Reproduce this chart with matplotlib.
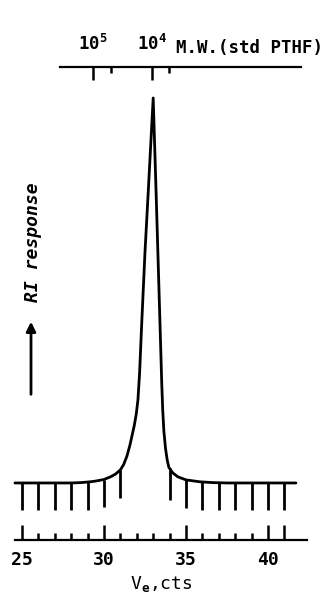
#!/usr/bin/env python3
import numpy as np
import matplotlib
matplotlib.use("Agg")
import matplotlib.pyplot as plt

# GPC trace (RI response vs elution volume)
ve = [24.57, 25, 26, 27, 28, 28.6, 29.15, 29.5, 30.0, 30.4, 30.7, 31.0, 31.2,
      31.4, 31.58, 31.72, 31.85, 31.97, 32.07, 32.17, 32.29, 32.5, 32.69, 33.0,
      33.18, 33.42, 33.52, 33.58, 33.65, 33.75, 33.86, 33.96, 34.2, 34.5, 35.0,
      35.85, 36.6, 37.5, 38.5, 39.5, 40.5, 41.7]
ri = [0, 0, 0, 0, 0, 0.1, 0.3, 0.5, 0.9, 1.6, 2.3, 3.4, 4.8,
      7.0, 9.8, 12.5, 15.0, 18.0, 21.6, 28.5, 40.5, 60.0, 75.0, 100.0,
      75.0, 40.5, 26.0, 19.0, 13.5, 9.0, 5.8, 4.0, 2.6, 1.6, 0.8,
      0.3, 0.1, 0, 0, 0, 0, 0]

# chart-recorder count marks hanging under the trace
mark_ve = [25, 26, 27, 28, 29, 30, 31, 34, 35, 36, 37, 38, 39, 40, 41]
mark_bottom = [-7, -7, -7, -7, -7, -6.3, -3.9, -4.4, -6.5, -7, -7, -7, -7, -7, -7]

# bottom axis (counts)
ve_major = [25, 30, 35, 40, 41]
ve_major_labels = ["25", "30", "35", "40", ""]
ve_minor = [26, 27, 28, 29, 31, 32, 33, 34, 36, 37, 38, 39]

# top axis (molecular weight, std PTHF)
mw_major = [29.33, 32.93]
mw_major_labels = ["$10^5$", "$10^4$"]
mw_minor = [30.43, 33.96]

plt.rcParams["font.family"] = ["DejaVu Sans Mono", "DejaVu Sans"]
plt.rcParams["font.weight"] = "bold"
plt.rcParams["mathtext.fontset"] = "custom"
plt.rcParams["mathtext.rm"] = "DejaVu Sans Mono:bold"
plt.rcParams["mathtext.it"] = "DejaVu Sans Mono:bold"
plt.rcParams["mathtext.default"] = "rm"

fig = plt.figure(figsize=(3.31, 5.97), dpi=100)
ax = fig.add_axes([0.0, 0.0955, 1.0, 0.7923])
ax.set_xlim(23.66, 43.84)
ax.set_ylim(-14.81, 108.05)

# trace
ax.plot(ve, ri, color="k", lw=2.0, solid_capstyle="round", solid_joinstyle="round")

# count marks
tops = np.interp(mark_ve, ve, ri)
ax.vlines(mark_ve, mark_bottom, tops, color="k", lw=2.0)

# bottom axis
for s in ["left", "right", "top"]:
    ax.spines[s].set_visible(False)
ax.spines["bottom"].set_bounds(24.57, 42.38)
ax.spines["bottom"].set_linewidth(1.6)
ax.set_yticks([])
ax.set_xticks(ve_major)
ax.set_xticklabels(ve_major_labels)
ax.set_xticks(ve_minor, minor=True)
ax.tick_params(axis="x", which="major", direction="in", length=11, width=1.8,
               labelsize=13, pad=8)
ax.tick_params(axis="x", which="minor", direction="in", length=5, width=1.8)
ax.set_xlabel("V$_e$,cts", fontsize=13)
ax.xaxis.set_label_coords(33.5, -26.3, transform=ax.transData)
ax.xaxis.label.set_va("center")

# top axis
top = ax.twiny()
top.set_xlim(ax.get_xlim())
for s in ["left", "right", "bottom"]:
    top.spines[s].set_visible(False)
top.spines["top"].set_bounds(27.32, 42.0)
top.spines["top"].set_linewidth(1.6)
top.set_xticks(mw_major)
top.set_xticklabels(mw_major_labels)
top.set_xticks(mw_minor, minor=True)
top.tick_params(axis="x", which="major", direction="in", length=9.5, width=1.8,
                labelsize=12.5, pad=9)
top.tick_params(axis="x", which="minor", direction="in", length=4, width=1.8)
ax.text(34.39, 111.7, "M.W.(std PTHF)", fontsize=12.5, ha="left", va="baseline")

# y label and arrow
ax.text(25.67, 62.6, "RI response", rotation=90, fontsize=13, style="oblique",
        ha="center", va="center")
ax.annotate("", xy=(25.55, 42.6), xytext=(25.55, 22.3),
            arrowprops=dict(arrowstyle="-|>", lw=2.0, color="k", mutation_scale=14))

fig.savefig("out.png", dpi=100)
